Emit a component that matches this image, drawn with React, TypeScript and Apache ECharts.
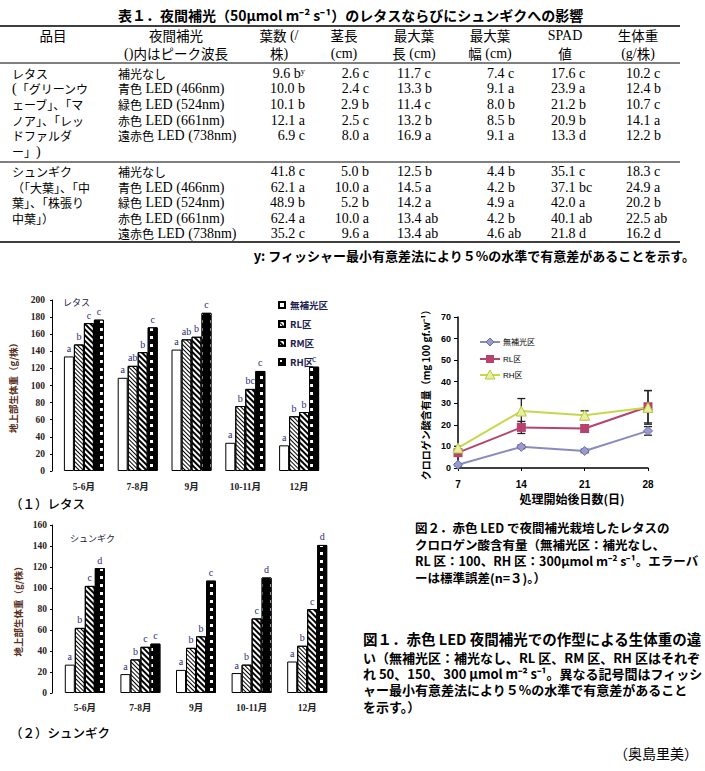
import React, { useEffect, useRef } from 'react';
import * as echarts from 'echarts';

// ---------- data: Table 1 ----------
const headerRow1 = ['品目', '夜間補光', '葉数 (/', '茎長', '最大葉', '最大葉', 'SPAD', '生体重'];
const headerRow2 = ['', '()内はピーク波長', '株)', '(cm)', '長 (cm)', '幅 (cm)', '値', '(g/株)'];
const lettuceLines = ['レタス', '(「グリーンウ', 'ェーブ」、「マ', 'ノア」、「レッ', 'ドファルダ', 'ー」)'];
const shungikuLines = ['シュンギク', '（「大葉」、「中', '葉」、「株張り', '中葉」）'];
const treatments = ['補光なし', '青色 LED (466nm)', '緑色 LED (524nm)', '赤色 LED (661nm)', '遠赤色 LED (738nm)'];
const lettuceLeafNum = ['9.6 bʸ', '10.0 b', '10.1 b', '12.1 a', '6.9 c'];
const lettuceStem = ['2.6 c', '2.4 c', '2.9 b', '2.5 c', '8.0 a'];
const lettuceLeafLen = ['11.7 c', '13.3 b', '11.4 c', '13.2 b', '16.9 a'];
const lettuceLeafWid = ['7.4 c', '9.1 a', '8.0 b', '8.5 b', '9.1 a'];
const lettuceSpad = ['17.6 c', '23.9 a', '21.2 b', '20.9 b', '13.3 d'];
const lettuceFw = ['10.2 c', '12.4 b', '10.7 c', '14.1 a', '12.2 b'];
const shungikuLeafNum = ['41.8 c', '62.1 a', '48.9 b', '62.4 a', '35.2 c'];
const shungikuStem = ['5.0 b', '10.0 a', '5.2 b', '10.0 a', '9.6 a'];
const shungikuLeafLen = ['12.5 b', '14.5 a', '14.2 a', '13.4 ab', '13.4 ab'];
const shungikuLeafWid = ['4.4 b', '4.2 b', '4.9 a', '4.2 b', '4.6 ab'];
const shungikuSpad = ['35.1 c', '37.1 bc', '42.0 a', '40.1 ab', '21.8 d'];
const shungikuFw = ['18.3 c', '24.9 a', '20.2 b', '22.5 ab', '16.2 d'];

// ---------- data: Fig.1 bars ----------
const months = ['5-6月', '7-8月', '9月', '10-11月', '12月'];
const barNames = ['無補光区', 'RL区', 'RM区', 'RH区'];
const lettuceNone = [134, 109, 142, 33, 30];
const lettuceRL = [148, 123, 154, 76, 64];
const lettuceRM = [173, 139, 157, 96, 69];
const lettuceRH = [177, 168, 185, 117, 122];
const lettuceNoneSig = ['a', 'a', 'a', 'a', 'a'];
const lettuceRLSig = ['b', 'ab', 'ab', 'b', 'b'];
const lettuceRMSig = ['c', 'b', 'b', 'bc', 'b'];
const lettuceRHSig = ['c', 'c', 'c', 'c', 'c'];
const shungikuNone = [27, 18, 22, 19, 30];
const shungikuRL = [62, 32, 43, 27, 45];
const shungikuRM = [102, 44, 54, 71, 80];
const shungikuRH = [119, 47, 107, 110, 141];
const shungikuNoneSig = ['a', 'a', 'a', 'a', 'a'];
const shungikuRLSig = ['b', 'b', 'b', 'b', 'b'];
const shungikuRMSig = ['c', 'c', 'b', 'c', 'c'];
const shungikuRHSig = ['d', 'c', 'c', 'd', 'd'];

// ---------- data: Fig.2 lines ----------
const days = ['7', '14', '21', '28'];
const lineNames = ['無補光区', 'RL区', 'RH区'];
const chlNone = [1.5, 9.8, 7.9, 17.2];
const chlNoneErr = [0.5, 0.8, 0.8, 2.0];
const chlRL = [7.1, 18.8, 18.3, 28.4];
const chlRLErr = [1.0, 2.8, 1.8, 7.5];
const chlRH = [9.3, 26.4, 24.5, 28.1];
const chlRHErr = [0.8, 5.8, 2.0, 7.8];

const serif = '"Liberation Serif", "Noto Sans CJK JP", serif';
const gothic = '"Noto Sans CJK JP", sans-serif';
const sans = '"Liberation Sans", "Noto Sans CJK JP", sans-serif';

const CJK = /([\u3000-\u30ff\u3400-\u9fff\uff00-\uffef]+)/g;
const toRich = (s: string) => s.replace(CJK, '{j|$1}');

function tableText(x: number, y: number, s: string, align: string, jSize = 11.5) {
  return {
    type: 'text', x, y, silent: true,
    style: {
      text: toRich(s), textAlign: align, textVerticalAlign: 'middle',
      fill: '#000', fontSize: 14, fontFamily: serif, lineHeight: 14,
      rich: { j: { fontSize: jSize, fontFamily: gothic, fill: '#000', lineHeight: 14 } },
    },
  };
}

function plainText(x: number, y: number, s: string, size: number, weight: any = 'normal', align = 'left', color = '#000', family = gothic) {
  return {
    type: 'text', x, y, silent: true,
    style: { text: s, textAlign: align, textVerticalAlign: 'middle', fill: color, fontSize: size, fontWeight: weight, fontFamily: family, lineHeight: size },
  };
}

function hRule(y: number, w: number) {
  return { type: 'line', silent: true, shape: { x1: 0, y1: y, x2: 680, y2: y }, style: { stroke: '#000', lineWidth: w } };
}

const decals: any[] = [
  null,
  { symbol: 'rect', symbolSize: 1, dashArrayX: [1, 0], dashArrayY: [1, 2], rotation: Math.PI / 4, color: '#000', backgroundColor: '#fff' },
  { symbol: 'rect', symbolSize: 1, dashArrayX: [1, 0], dashArrayY: [2, 2], rotation: Math.PI / 4, color: '#000', backgroundColor: '#fff' },
  { symbol: 'rect', symbolSize: 1, dashArrayX: [3, 7], dashArrayY: [3, 5], color: '#fff', backgroundColor: '#000' },
];

function barSeries(idx: number, data: number[], sig: string[], axis: number) {
  const d = decals[idx];
  return {
    type: 'bar', name: barNames[idx], data, xAxisIndex: axis, yAxisIndex: axis,
    barWidth: 10, barGap: '0%',
    itemStyle: Object.assign({ color: idx === 3 ? '#000' : '#fff', borderColor: '#000', borderWidth: 1 }, d ? { decal: d } : {}),
    label: {
      show: true, position: 'top', distance: 3,
      formatter: (p: any) => sig[p.dataIndex],
      color: '#2b2b7a', fontSize: 10, fontFamily: serif,
    },
  };
}

export default function App() {
  const ref = useRef<HTMLDivElement>(null);
  useEffect(() => {
    if (!ref.current) return;
    const chart = echarts.init(ref.current, undefined, { renderer: 'svg' });

    const g: any[] = [];
    // Title
    g.push(plainText(118, 15, '表１．夜間補光（50μmol m⁻² s⁻¹）のレタスならびにシュンギクへの影響', 14, 'bold'));
    // rules
    g.push(hRule(26, 1.5), hRule(63, 1), hRule(162, 1), hRule(242, 1.5));
    // header
    const hdrX = [53, 176, 279, 344, 414, 490, 565, 638];
    headerRow1.forEach((s, i) => g.push(tableText(hdrX[i], 35, s, 'center', 13.5)));
    headerRow2.forEach((s, i) => { if (s) g.push(tableText(hdrX[i], 53, s, 'center', 13.5)); });
    // body
    const colX = [305, 369, 397, 487, 551, 626];
    const colAlign = ['right', 'right', 'left', 'left', 'left', 'left'];
    const lettuceCols = [lettuceLeafNum, lettuceStem, lettuceLeafLen, lettuceLeafWid, lettuceSpad, lettuceFw];
    const shungikuCols = [shungikuLeafNum, shungikuStem, shungikuLeafLen, shungikuLeafWid, shungikuSpad, shungikuFw];
    const lY = (i: number) => 73 + i * 15.7;
    const sY = (i: number) => 171.5 + i * 15.5;
    lettuceLines.forEach((s, i) => g.push(tableText(12, lY(i), s, 'left', 12)));
    shungikuLines.forEach((s, i) => g.push(tableText(12, sY(i), s, 'left', 12)));
    treatments.forEach((s, i) => {
      g.push(tableText(118, lY(i), s, 'left', 12));
      g.push(tableText(118, sY(i), s, 'left', 12));
    });
    lettuceCols.forEach((col, c) => col.forEach((s, i) => g.push(tableText(colX[c], lY(i), s, colAlign[c]))));
    shungikuCols.forEach((col, c) => col.forEach((s, i) => g.push(tableText(colX[c], sY(i), s, colAlign[c]))));
    g.push(plainText(695, 255, 'y: フィッシャー最小有意差法により５%の水準で有意差があることを示す。', 13, 'bold', 'right'));

    // panel labels
    g.push(plainText(63, 302, 'レタス', 9, 'normal', 'left', '#202040'));
    g.push(plainText(70, 538, 'シュンギク', 9, 'normal', 'left', '#202040'));
    g.push(plainText(10, 503, '（１）レタス', 12.5, 500));
    g.push(plainText(10, 732, '（２）シュンギク', 12.5, 500));

    // line chart legend
    const lineColors = ['#8a8ac2', '#b6426f', '#c6d84a'];
    const legY = [342, 359, 375];
    legY.forEach((y, i) => {
      g.push({ type: 'line', silent: true, shape: { x1: 480, y1: y, x2: 500, y2: y }, style: { stroke: lineColors[i], lineWidth: 2 } });
      g.push(plainText(503, y, lineNames[i], 8, 'normal', 'left', '#000', sans));
    });
    g.push({ type: 'polygon', silent: true, shape: { points: [[490, legY[0] - 4], [494, legY[0]], [490, legY[0] + 4], [486, legY[0]]] }, style: { fill: '#9a9ad2', stroke: '#6a6aa2', lineWidth: 1 } });
    g.push({ type: 'rect', silent: true, shape: { x: 486, y: legY[1] - 4, width: 8, height: 8 }, style: { fill: '#b6426f' } });
    g.push({ type: 'polygon', silent: true, shape: { points: [[490, legY[2] - 5], [495, legY[2] + 4], [485, legY[2] + 4]] }, style: { fill: '#e8f0a0', stroke: '#b8c840', lineWidth: 1 } });
    g.push(plainText(572, 498, '処理開始後日数(日)', 12, 'bold', 'center'));

    // captions
    const fig2 = ['図２．赤色 LED で夜間補光栽培したレタスの', 'クロロゲン酸含有量（無補光区：補光なし、', 'RL 区：100、RH 区：300μmol m⁻² s⁻¹。エラーバ', 'ーは標準誤差(n=３)。）'];
    const fig2Y = [527, 544, 560, 577];
    fig2.forEach((s, i) => g.push(plainText(415, fig2Y[i], s, 12.5, 'bold')));
    const fig1 = ['図１．赤色 LED 夜間補光での作型による生体重の違', 'い（無補光区：補光なし、RL 区、RM 区、RH 区はそれぞ', 'れ 50、150、300 μmol m⁻² s⁻¹。異なる記号間はフィッシ', 'ャー最小有意差法により５%の水準で有意差があること', 'を示す。）'];
    const fig1Y = [638, 657, 673, 689, 706];
    fig1.forEach((s, i) => g.push(plainText(363, fig1Y[i], s, i === 0 ? 14.5 : 13, 'bold')));
    g.push(plainText(698, 753, '（奥島里美）', 14, 'normal', 'right'));

    // error bar data
    const errData: number[][] = [];
    [[chlNone, chlNoneErr], [chlRL, chlRLErr], [chlRH, chlRHErr]].forEach(([v, e]) => {
      v.forEach((val, i) => errData.push([i, val - e[i], val + e[i]]));
    });

    const barAxisLabel = { fontSize: 9.5, fontWeight: 'bold', fontFamily: serif, color: '#2a2020' };
    const yName = { fontSize: 9.5, fontWeight: 'bold', fontFamily: gothic, color: '#5a3020' };

    const option: any = {
      animation: false,
      backgroundColor: '#fff',
      graphic: { elements: g },
      legend: {
        data: barNames, orient: 'vertical', left: 278, top: 300, padding: 0,
        itemWidth: 6, itemHeight: 6, itemGap: 9, icon: 'rect', selectedMode: false,
        textStyle: { fontSize: 9.5, fontWeight: 'bold', fontFamily: gothic, color: '#202050', lineHeight: 10 },
      },
      grid: [
        { left: 57, top: 300, width: 269, height: 171 },
        { left: 57, top: 525, width: 278, height: 168 },
        { left: 458, top: 317, width: 190, height: 151 },
      ],
      xAxis: [
        { type: 'category', gridIndex: 0, data: months, axisLine: { show: false }, axisTick: { show: false }, axisLabel: { ...barAxisLabel, color: '#222', margin: 11 } },
        { type: 'category', gridIndex: 1, data: months, axisLine: { show: false }, axisTick: { show: false }, axisLabel: { ...barAxisLabel, color: '#222', margin: 10 } },
        {
          type: 'category', gridIndex: 2, data: days, boundaryGap: false,
          axisLine: { lineStyle: { color: '#000', width: 1.5 } }, axisTick: { show: true, length: 3, lineStyle: { color: '#000' } },
          axisLabel: { fontSize: 10, fontWeight: 'bold', fontFamily: sans, color: '#000', margin: 11 },
        },
      ],
      yAxis: [
        {
          type: 'value', gridIndex: 0, min: 0, max: 200, interval: 20, offset: 5,
          axisLine: { show: true, lineStyle: { color: '#000', width: 1 } }, axisTick: { show: true, length: 2, lineStyle: { color: '#000' } },
          splitLine: { show: false }, axisLabel: { ...barAxisLabel, margin: 7 },
          name: '地上部生体重（g/株）', nameLocation: 'middle', nameRotate: 90, nameGap: 34, nameTextStyle: yName,
        },
        {
          type: 'value', gridIndex: 1, min: 0, max: 160, interval: 20, offset: 5,
          axisLine: { show: true, lineStyle: { color: '#000', width: 1 } }, axisTick: { show: true, length: 2, lineStyle: { color: '#000' } },
          splitLine: { show: false }, axisLabel: { ...barAxisLabel, margin: 5 },
          name: '地上部生体重（g/株）', nameLocation: 'middle', nameRotate: 90, nameGap: 29, nameTextStyle: yName,
        },
        {
          type: 'value', gridIndex: 2, min: 0, max: 70, interval: 10,
          axisLine: { show: true, lineStyle: { color: '#000', width: 1.5 } }, axisTick: { show: true, length: 4, lineStyle: { color: '#000' } },
          splitLine: { show: false }, axisLabel: { fontSize: 9, fontWeight: 'bold', fontFamily: sans, color: '#000', margin: 7 },
          name: 'クロロゲン酸含有量（mg 100 gf.w⁻¹）', nameLocation: 'middle', nameRotate: 90, nameGap: 28,
          nameTextStyle: { fontSize: 10, fontWeight: 'bold', fontFamily: gothic, color: '#000' },
        },
      ],
      series: [
        barSeries(0, lettuceNone, lettuceNoneSig, 0),
        barSeries(1, lettuceRL, lettuceRLSig, 0),
        barSeries(2, lettuceRM, lettuceRMSig, 0),
        barSeries(3, lettuceRH, lettuceRHSig, 0),
        barSeries(0, shungikuNone, shungikuNoneSig, 1),
        barSeries(1, shungikuRL, shungikuRLSig, 1),
        barSeries(2, shungikuRM, shungikuRMSig, 1),
        barSeries(3, shungikuRH, shungikuRHSig, 1),
        {
          type: 'custom', name: 'err', xAxisIndex: 2, yAxisIndex: 2, data: errData, z: 1,
          encode: { x: 0, y: [1, 2] },
          renderItem: (params: any, api: any) => {
            const x = api.value(0);
            const lo = api.coord([x, api.value(1)]);
            const hi = api.coord([x, api.value(2)]);
            const st = { stroke: '#222', lineWidth: 1.3 };
            return {
              type: 'group', children: [
                { type: 'line', shape: { x1: lo[0], y1: lo[1], x2: hi[0], y2: hi[1] }, style: st },
                { type: 'line', shape: { x1: lo[0] - 4, y1: lo[1], x2: lo[0] + 4, y2: lo[1] }, style: st },
                { type: 'line', shape: { x1: hi[0] - 4, y1: hi[1], x2: hi[0] + 4, y2: hi[1] }, style: st },
              ],
            };
          },
        },
        {
          type: 'line', name: 'line-none', xAxisIndex: 2, yAxisIndex: 2, data: chlNone, z: 3,
          symbol: 'diamond', symbolSize: 9,
          lineStyle: { color: lineColors[0], width: 2 }, itemStyle: { color: '#9a9ad2', borderColor: '#6a6aa2', borderWidth: 1 },
        },
        {
          type: 'line', name: 'line-rl', xAxisIndex: 2, yAxisIndex: 2, data: chlRL, z: 3,
          symbol: 'rect', symbolSize: 9,
          lineStyle: { color: lineColors[1], width: 2 }, itemStyle: { color: '#b6426f' },
        },
        {
          type: 'line', name: 'line-rh', xAxisIndex: 2, yAxisIndex: 2, data: chlRH, z: 3,
          symbol: 'triangle', symbolSize: 10,
          lineStyle: { color: lineColors[2], width: 2 }, itemStyle: { color: '#e8f0a0', borderColor: '#b8c840', borderWidth: 1 },
        },
      ],
    };
    chart.setOption(option);
    return () => chart.dispose();
  }, []);
  return <div ref={ref} style={{ position: 'absolute', left: 0, top: 0, width: 705, height: 771, background: '#fff' }} />;
}
